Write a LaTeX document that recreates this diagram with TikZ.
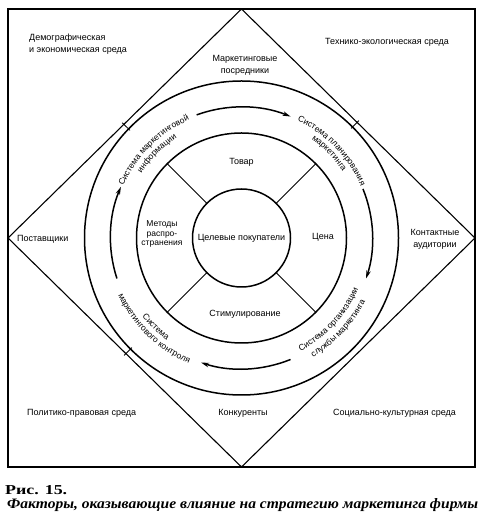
\documentclass[tikz,border=0pt]{standalone}
\usepackage{graphicx}
\usepackage{fontspec}
\setmainfont{Liberation Serif}
\setsansfont{Liberation Sans}
\usetikzlibrary{arrows.meta,decorations.text}
\begin{document}
\begin{tikzpicture}[x=1pt,y=1pt,
  lbl/.style={font=\sffamily\fontsize{9}{12}\selectfont, inner sep=0pt},
  ring/.style={draw, circle, line width=1.5pt, inner sep=0pt, outer sep=0pt},
  spoke/.style={line width=1pt},
  flow/.style={line width=1.5pt, -{Stealth[length=8pt,width=4.5pt]}},
  tick/.style={line width=0.8pt},
  arctext/.style={decorate, decoration={text along path, text align=center,
     text format delimiters={[}{]}}}
]
\useasboundingbox (0,0) rectangle (483,524);
\coordinate (C) at (241.5,286);
% frame and diamond
\node[draw, line width=1.2pt, minimum width=467pt, minimum height=458pt,
      inner sep=0pt, outer sep=0pt] (frame) at (C) {};
\draw[line width=1.1pt] (frame.north) -- (frame.east) -- (frame.south) -- (frame.west) -- cycle;
% circles
\node[ring, minimum size=314pt] (outer) at (C) {};
\node[ring, minimum size=210pt] (mid) at (C) {};
\node[ring, minimum size=98pt, font=\sffamily\fontsize{9}{12}\selectfont] (inner) at (C) {Целевые покупатели};
% spokes
\foreach \a in {45,135,225,315} \draw[spoke] (inner.\a) -- (mid.\a);
% ticks between outer circle and diamond
\draw[tick] ([shift={(136:155pt)}]C) -- ([shift={(136:166pt)}]C);
\draw[tick] ([shift={(45:155pt)}]C) -- ([shift={(45:166pt)}]C);
\draw[tick] ([shift={(225:155pt)}]C) -- ([shift={(225:166pt)}]C);
% flow arrows (clockwise)
\draw[flow] ([shift={(110:131pt)}]C) arc[start angle=110, end angle=68, radius=131pt];
\draw[flow] ([shift={(22:131pt)}]C) arc[start angle=22, end angle=-18, radius=131pt];
\draw[flow] ([shift={(-68:131pt)}]C) arc[start angle=-68, end angle=-108, radius=131pt];
\draw[flow] ([shift={(198:131pt)}]C) arc[start angle=198, end angle=157, radius=131pt];
% ring labels
\path[arctext, decoration={text={[\sffamily\fontsize{8.5}{10}\selectfont]Система маркетинговой}}]
  ([shift={(175:129pt)}]C) arc[start angle=175, end angle=95, radius=129pt];
\path[arctext, decoration={text={[\sffamily\fontsize{8.5}{10}\selectfont]информации}}]
  ([shift={(175:119pt)}]C) arc[start angle=175, end angle=95, radius=119pt];
\path[arctext, decoration={text={[\sffamily\fontsize{8.5}{10}\selectfont]Система планирования}}]
  ([shift={(84:130pt)}]C) arc[start angle=84, end angle=4, radius=130pt];
\path[arctext, decoration={text={[\sffamily\fontsize{8.5}{10}\selectfont]маркетинга}}]
  ([shift={(84:121pt)}]C) arc[start angle=84, end angle=4, radius=121pt];
\path[arctext, decoration={text={[\sffamily\fontsize{8.5}{10}\selectfont]Система организации}}]
  ([shift={(-83:127.5pt)}]C) arc[start angle=-83, end angle=-3, radius=127.5pt];
\path[arctext, decoration={text={[\sffamily\fontsize{8.5}{10}\selectfont]службы маркетинга}}]
  ([shift={(-83:139pt)}]C) arc[start angle=-83, end angle=-3, radius=139pt];
\path[arctext, decoration={text={[\sffamily\fontsize{8.5}{10}\selectfont]Система}}]
  ([shift={(186:126.5pt)}]C) arc[start angle=186, end angle=266, radius=126.5pt];
\path[arctext, decoration={text={[\sffamily\fontsize{8.5}{10}\selectfont]маркетингового контроля}}]
  ([shift={(186:136pt)}]C) arc[start angle=186, end angle=266, radius=136pt];
% marketing mix labels
\node[lbl] (prod) at (241.5,362) {Товар};
\node[lbl] (price) at (323,287) {Цена};
\node[lbl] (promo) at (245,210) {Стимулирование};
\node[lbl, align=center, font=\sffamily\fontsize{8.5}{9.5}\selectfont] (place) at (162,290) {Методы\\распро-\\странения};
% environment labels
\node[lbl, anchor=west, align=left] (demo) at (29,480) {Демографическая\\и экономическая среда};
\node[lbl, anchor=west] (tech) at (325,482) {Технико-экологическая среда};
\node[lbl, align=center] (interm) at (245,459) {Маркетинговые\\посредники};
\node[lbl, anchor=west] (suppl) at (17,285) {Поставщики};
\node[lbl, align=center] (publ) at (435,285) {Контактные\\аудитории};
\node[lbl, anchor=west] (polit) at (27,111) {Политико-правовая среда};
\node[lbl] (compet) at (243,111) {Конкуренты};
\node[lbl, anchor=west] (socio) at (333,111) {Социально-культурная среда};
% caption
\node[anchor=base west, inner sep=0pt] (fig) at (5,29) {\resizebox{62pt}{9pt}{\bfseries Рис. 15.}};
\node[anchor=base west, inner sep=0pt] (cap) at (7,15.5) {\resizebox{471pt}{10pt}{\bfseries\itshape Факторы, оказывающие влияние на стратегию маркетинга фирмы}};
\end{tikzpicture}
\end{document}
